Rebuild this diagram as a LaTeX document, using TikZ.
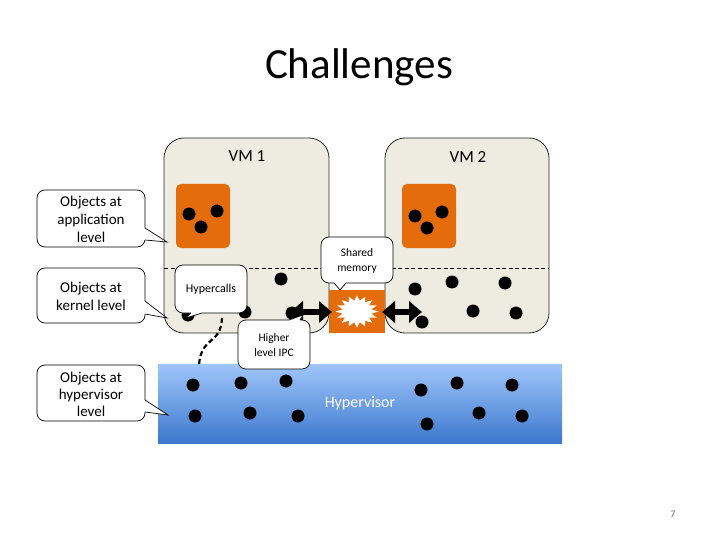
\documentclass[tikz,border=0pt]{standalone}
\usepackage{fontspec}
\setmainfont{Carlito}
\usetikzlibrary{arrows.meta,calc}
\definecolor{vmfill}{HTML}{EEECE1}
\definecolor{orng}{HTML}{E46C0A}
\definecolor{hvtop}{RGB}{160,198,250}
\definecolor{hvbot}{RGB}{60,120,206}
\definecolor{pgnum}{RGB}{110,110,110}
\newcommand{\ptrshape}[4]{%
  \fill[white] (#1) -- (#3) -- (#2) -- ($(#2)+(#4)$) -- ($(#1)+(#4)$) -- cycle;
  \draw[cline] (#1) -- (#3) -- (#2);}
\begin{document}
\begin{tikzpicture}[x=1pt,y=-1pt,
  vmbox/.style={draw=black!85, line width=0.8pt, fill=vmfill, rounded corners=20pt},
  appbox/.style={fill=orng, rounded corners=5pt},
  obj/.style={fill=black},
  cbox/.style={draw=black, line width=0.7pt, fill=white, rounded corners=8pt},
  cline/.style={draw=black, line width=0.7pt},
  ctext/.style={align=center, inner sep=0pt},
  bigarrow/.style={line width=6.5pt, {Triangle[width=21pt,length=13pt]}-{Triangle[width=21pt,length=13pt]}},
  dcurve/.style={line width=2.2pt, dash pattern=on 5pt off 3pt}
]
\useasboundingbox (0,0) rectangle (720,540);

% title
\node[font=\fontsize{43}{50}\selectfont] (title) at (359,67) {Challenges};

% VM boxes
\draw[vmbox] (164,138) rectangle (329,333);
\draw[vmbox] (385,138) rectangle (549,333);
\node[font=\fontsize{17}{20}\selectfont] (vm1) at (247,156) {VM 1};
\node[font=\fontsize{17}{20}\selectfont] (vm2) at (468,157) {VM 2};
\draw[line width=0.7pt, dash pattern=on 4pt off 2.5pt] (164.4,268) -- (548.6,268);

% application boxes
\fill[appbox] (176,184) rectangle (230,248);
\fill[appbox] (402,184) rectangle (456,248);
\foreach \p in {(189,214),(217,211),(201,227),(415,216),(442,212),(427,228)}
  \fill[obj] \p circle (6.5);

% kernel level objects
\foreach \p in {(281,279),(188,315),(245,312),(292,313),
                (415,289),(452,282),(505,283),(473,311),(516,313),(422,322)}
  \fill[obj] \p circle (6.5);

% hypervisor
\shade[top color=hvtop, bottom color=hvbot] (158,364) rectangle (562,443);
\node[font=\fontsize{16}{19}\selectfont, text=white] (hv) at (360,403) {Hypervisor};
\foreach \p in {(193,385),(241,383),(286,381),(195,416),(250,413),(298,416),
                (421,390),(457,383),(512,385),(479,413),(522,416),(427,424)}
  \fill[obj] \p circle (6.5);

% shared memory
\fill[orng] (329,290) rectangle (385,333);
\fill[white, shift={(357,311.5)}] plot[samples=33, domain=0:32, variable=\t]
  ({(18+3.5*cos(\t*180))*cos(\t*11.25)}, {(13.5+2.5*cos(\t*180))*sin(\t*11.25)}) -- cycle;
\coordinate (la) at (290,312);
\coordinate (lb) at (332,312);
\coordinate (ra) at (382,312);
\coordinate (rb) at (422,312);
\draw[bigarrow] (la) -- (lb);
\draw[bigarrow] (ra) -- (rb);

% callouts left
\draw[cbox] (37,190) rectangle (145,247);
\ptrshape{145,228}{145,240}{167,242}{-1.5,0}
\node[ctext, font=\fontsize{15}{18}\selectfont] (capp) at (91,219) {Objects at\\application\\level};

\draw[cbox] (37,268) rectangle (145,323);
\ptrshape{145,301}{145,314}{167,318}{-1.5,0}
\node[ctext, font=\fontsize{15}{18}\selectfont] (ckern) at (91,296) {Objects at\\kernel level};

\draw[cbox] (37,365) rectangle (145,421);
\ptrshape{145,400}{145,412}{168,415}{-1.5,0}
\node[ctext, font=\fontsize{15}{17}\selectfont] (chyp) at (91,394) {Objects at\\hypervisor\\level};

% hypercalls
\draw[cbox] (175,265) rectangle (247,313);
\ptrshape{191,313}{202,313}{186,318}{0,-1.5}
\node[ctext, font=\fontsize{12}{14}\selectfont] (chc) at (211,289) {Hypercalls};

% shared memory callout
\draw[cbox] (321,237) rectangle (393,283);
\ptrshape{334,283}{346,283}{340,290}{0,-1.5}
\node[ctext, font=\fontsize{11.5}{15}\selectfont] (csm) at (357,261) {Shared\\memory};

% higher level IPC
\draw[cbox] (238,320) rectangle (310,369);
\ptrshape{289,320}{300,320}{303,315}{0,1.5}
\node[ctext, font=\fontsize{11.5}{15}\selectfont] (cipc) at (274,345.5) {Higher\\level IPC};

% dashed hypercall path
\coordinate (hcA) at (222,318);
\coordinate (hcB) at (199,365);
\draw[dcurve] (hcA) .. controls (221,345) and (201,336) .. (hcB);

% page number
\node[font=\fontsize{10}{12}\selectfont, text=pgnum] (pg) at (673,514) {7};
\end{tikzpicture}
\end{document}
